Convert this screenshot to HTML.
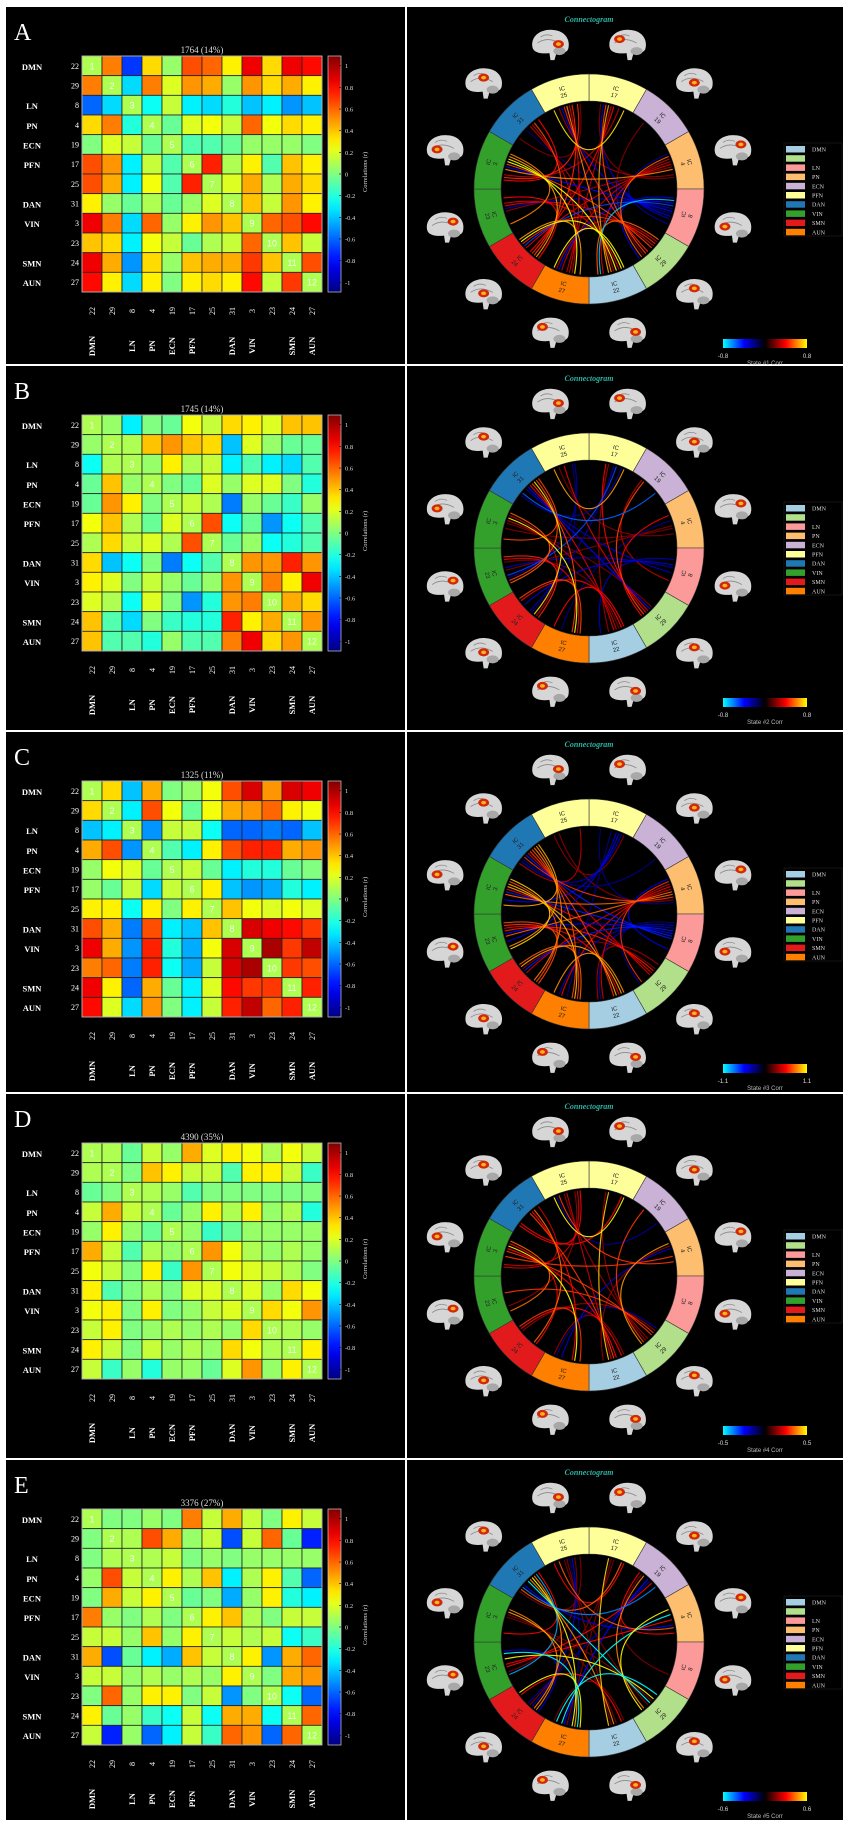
<!DOCTYPE html>
<html><head><meta charset="utf-8"><title>dFNC states</title>
<style>
html,body{margin:0;padding:0;background:#fff;}
svg{display:block;font-family:"Liberation Serif",serif;}
</style></head>
<body>
<svg id="fig" width="851" height="1828" viewBox="0 0 851 1828" xmlns="http://www.w3.org/2000/svg"></svg>
<script>
// ---------- data ----------
const panelLetters = ['A','B','C','D','E'];
const stateTitles = ['1764 (14%)','1745 (14%)','1325 (11%)','4390 (35%)','3376 (27%)'];
const stateClims = [0.8,0.8,1.1,0.5,0.6];
const icOrder = [22,29,8,4,19,17,25,31,3,23,24,27];
const rowNetworks = ['DMN','','LN','PN','ECN','PFN','','DAN','VIN','','SMN','AUN'];
const colorbarTicks = [1,0.8,0.6,0.4,0.2,0,-0.2,-0.4,-0.6,-0.8,-1];
const ringIcs = [17,19,4,8,29,22,27,24,23,3,31,25];
const ringColors = ['#ffff99','#cab2d6','#fdbf6f','#fb9a99','#b2df8a','#a6cee3','#ff7f00','#e31a1c','#33a02c','#33a02c','#1f78b4','#ffff99'];
const legendLabels = ['DMN','','LN','PN','ECN','PFN','DAN','VIN','SMN','AUN'];
const legendColors = ['#a6cee3','#b2df8a','#fb9a99','#fdbf6f','#cab2d6','#ffff99','#1f78b4','#33a02c','#e31a1c','#ff7f00'];

const stateA = [
[0.1,0.55,-0.7,0.35,0.05,0.65,0.6,0.3,0.85,0.35,0.85,0.8],
[0.55,0.1,-0.35,0.55,0.2,0.5,0.45,0.05,0.5,0.35,0.45,0.3],
[-0.6,-0.35,0.1,-0.25,0.15,-0.3,-0.35,-0.2,-0.4,-0.3,-0.5,-0.4],
[0.35,0.55,-0.2,0.1,-0.05,0.2,0.25,0.15,0.6,0.25,0.35,0.3],
[0,0.2,0.15,-0.05,0.1,-0.1,-0.1,-0.05,0.05,0.05,0.05,0],
[0.65,0.5,-0.3,0.15,-0.1,0.1,0.75,0.1,0.3,-0.1,0.4,0.3],
[0.65,0.45,-0.3,0.25,-0.1,0.75,0.1,0.2,0.45,0.1,0.45,0.35],
[0.3,0.05,-0.05,0.1,-0.05,0.05,0.2,0.1,0.4,0.15,0.5,0.3],
[0.85,0.55,-0.35,0.6,0.05,0.3,0.5,0.4,0.1,0.6,0.65,0.8],
[0.4,0.35,-0.3,0.25,0.15,-0.05,0.1,0.15,0.6,0.1,0.4,0.15],
[0.85,0.45,-0.5,0.35,0.05,0.4,0.45,0.45,0.7,0.4,0.1,0.65],
[0.8,0.3,-0.35,0.3,0,0.3,0.35,0.3,0.8,0.15,0.7,0.1]];
const stateB = [
[0.1,0.05,-0.3,0,-0.05,0.25,0.15,0.35,0.3,0.2,0.4,0.4],
[0.05,0.1,0.1,0.4,0.5,0.4,0.35,-0.4,0.2,0.05,-0.05,-0.05],
[-0.25,0.1,0.1,0.05,0.3,0.1,0.15,-0.3,-0.1,-0.3,-0.35,-0.1],
[-0.05,0.4,0.05,0.1,0,-0.05,0.2,0.05,0.2,0.2,0,-0.2],
[-0.05,0.5,0.3,0,0.1,0.15,0.1,-0.55,0.05,-0.05,-0.15,0.05],
[0.25,0.4,0.1,-0.05,0.2,0.1,0.65,-0.25,-0.05,-0.5,-0.25,-0.1],
[0.1,0.35,0.15,0.2,0.1,0.65,0.1,-0.05,0.05,-0.25,-0.2,-0.1],
[0.35,-0.4,-0.25,0,-0.55,-0.25,-0.1,0.1,0.5,0.5,0.75,0.5],
[0.3,0.2,0,0.15,0.05,-0.05,0.05,0.5,0.1,0.55,0.3,0.85],
[0.2,0.1,-0.25,0.2,0,-0.5,-0.2,0.5,0.55,0.1,0.45,0.35],
[0.4,-0.1,-0.35,0,-0.15,-0.2,-0.2,0.75,0.3,0.45,0.1,0.5],
[0.4,-0.1,-0.1,-0.2,0.05,-0.1,-0.1,0.55,0.85,0.35,0.5,0.1]];
const stateC = [
[0.1,0.35,-0.4,0.45,0,0.05,0.25,0.65,0.9,0.5,0.9,0.85],
[0.35,0.1,-0.3,0.65,0.25,-0.05,0.25,0.45,0.5,0.6,0.3,0.25],
[-0.4,-0.3,0.1,-0.5,0.15,0.15,-0.25,-0.6,-0.6,-0.55,-0.6,-0.4],
[0.45,0.65,-0.5,0.1,-0.1,-0.3,0.3,0.65,0.75,0.75,0.45,0.5],
[0.05,0.25,0.2,-0.05,0.1,0.15,-0.05,-0.3,-0.2,-0.2,-0.05,0],
[0.05,-0.05,0.15,-0.35,0.15,0.1,0.3,-0.4,-0.5,-0.45,-0.2,-0.3],
[0.3,0.3,-0.25,0.3,0,0.3,0.1,0.4,0.25,0.2,0.25,0.2],
[0.65,0.45,-0.55,0.65,-0.3,-0.4,0.4,0.1,0.9,0.85,0.8,0.7],
[0.85,0.45,-0.5,0.75,-0.2,-0.45,0.25,0.9,0.1,1.0,0.7,0.95],
[0.55,0.6,-0.55,0.75,-0.25,-0.45,0.15,0.9,1.0,0.1,0.7,0.65],
[0.85,0.3,-0.6,0.45,-0.05,-0.3,0.2,0.8,0.7,0.7,0.1,0.75],
[0.8,0.2,-0.35,0.5,0,-0.3,0.15,0.75,0.95,0.6,0.75,0.1]];
const stateD = [
[0.1,0.1,-0.05,0.15,0.05,0.45,0.2,0.3,0.25,0.1,0.25,0.15],
[0.1,0.1,0,0.4,0.3,0.15,0.15,-0.1,0.3,0.3,0.15,-0.15],
[-0.05,0,0.1,0.1,0.05,-0.1,0,0,0,0,0,0],
[0.15,0.45,0.15,0.1,-0.05,0.05,0.3,0.1,0.3,0.05,0.1,-0.2],
[0.05,0.3,0.05,-0.05,0.1,0.05,-0.15,-0.05,0.05,0.05,0.05,0.05],
[0.45,0.15,-0.1,0.1,0.05,0.1,0.5,0.25,0.1,0.05,0.1,0.05],
[0.25,0.15,0,0.3,-0.15,0.5,0.1,0.25,0.2,0.15,0.1,0],
[0.3,-0.1,0,0.1,0,0.2,0.2,0.1,0.2,0.05,0.35,0.25],
[0.25,0.3,0,0.3,0,0.05,0.15,0.2,0.1,0.35,0.25,0.5],
[0.15,0.3,0,0.05,0.1,0.05,0.1,0.05,0.35,0.1,0.1,0.05],
[0.3,0.15,0,0.15,0.05,0.1,0.05,0.35,0.25,0.1,0.1,0.3],
[0.15,-0.15,0.05,-0.2,0.05,0.05,-0.05,0.2,0.5,0.05,0.3,0.1]];
const stateE = [
[0.1,0,0,0.05,0,0.55,0.15,0.45,0.15,0,0.3,0.15],
[0,0.1,0.1,0.65,0.45,0.05,0.15,-0.65,0.15,0.6,-0.05,-0.75],
[0,0.1,0.1,0.1,0.15,0,0.05,0,0.05,0.05,0.05,0.05],
[0.05,0.65,0.15,0.1,0.3,0.1,0.4,-0.3,0.1,0.3,-0.1,-0.6],
[0,0.45,0.15,0.3,0.1,-0.05,0,-0.45,0.05,0.3,-0.2,-0.3],
[0.55,0.05,0,0.1,0,0.1,0.3,0.4,0.1,0,0.15,0.15],
[0.15,0.15,0.05,0.4,0.05,0.3,0.1,0.15,0.1,0.15,-0.25,-0.15],
[0.45,-0.65,-0.05,-0.3,-0.45,0.4,0.15,0.1,0.3,-0.5,0.45,0.6],
[0.15,0.15,0.05,0.1,0.05,0.1,0.05,0.3,0.1,0,0.45,0.5],
[0,0.6,0.05,0.3,0.3,0,0.15,-0.5,0,0.1,-0.25,-0.6],
[0.3,-0.05,0.05,-0.15,-0.25,0.15,-0.25,0.45,0.45,-0.25,0.1,0.6],
[0.15,-0.75,0.05,-0.6,-0.3,0.15,-0.15,0.6,0.5,-0.6,0.6,0.1]];
const stateMatrices = [stateA,stateB,stateC,stateD,stateE];

// ---------- layout ----------
const panelTops = [7,366,732,1094,1460];
const NS = 'http://www.w3.org/2000/svg';
const svg = document.getElementById('fig');
function mk(tag, attrs, parent, txt){
  const e = document.createElementNS(NS, tag);
  for (const k in attrs) e.setAttribute(k, attrs[k]);
  if (txt !== undefined) e.textContent = txt;
  (parent || svg).appendChild(e);
  return e;
}
const clampU = x => Math.max(0, Math.min(1, x));
const CB = 1.09;
function jet(v){
  const t = clampU((v + CB) / (2*CB));
  const r = clampU(1.5 - Math.abs(4*t - 3)), g = clampU(1.5 - Math.abs(4*t - 2)), b = clampU(1.5 - Math.abs(4*t - 1));
  return `rgb(${Math.round(r*255)},${Math.round(g*255)},${Math.round(b*255)})`;
}
function hot2(t){
  t = clampU(t);
  const stops = [[0,255,255],[0,0,255],[0,0,0],[255,0,0],[255,255,0]];
  const p = t*4, i = Math.min(3, Math.floor(p)), f = p - i;
  const a = stops[i], b = stops[i+1];
  return `rgb(${Math.round(a[0]+(b[0]-a[0])*f)},${Math.round(a[1]+(b[1]-a[1])*f)},${Math.round(a[2]+(b[2]-a[2])*f)})`;
}
const defs = mk('defs', {});
const jg = mk('linearGradient', {id:'jetGrad', x1:0, y1:1, x2:0, y2:0}, defs);
for (let k=0;k<=20;k++) mk('stop', {offset: k/20, 'stop-color': jet(-CB + 2*CB*k/20)}, jg);
const hg = mk('linearGradient', {id:'hotGrad', x1:0, y1:0, x2:1, y2:0}, defs);
for (let k=0;k<=20;k++) mk('stop', {offset: k/20, 'stop-color': hot2(k/20)}, hg);

const HX = 82, HW = 240, N = 12, CW = HW / N, HH = 236, CH = HH / N;

panelLetters.forEach((L, p) => {
  const P = panelTops[p];
  const PB = (p < 4 ? panelTops[p+1] - 2 : 1820);
  const M = stateMatrices[p];
  const gL = mk('g', {});
  
  
  mk('rect', {x:6, y:P, width:399, height:PB-P, fill:'#000'}, gL);
  const gR = mk('g', {});
  
  
  mk('rect', {x:407, y:P, width:436, height:PB-P, fill:'#000'}, gR);

  const letter = mk('text', {x:14, y:P+33, fill:'#fff', 'font-size':24}, gL, L);
  
  

  const HY = P + 49;
  const title = mk('text', {x:HX+HW/2, y:HY-3, fill:'#ddd', 'font-size':9, 'text-anchor':'middle'}, gL, stateTitles[p]);
  
  

  const gh = mk('g', {}, gL);
  
  
  for (let i=0;i<N;i++) for (let j=0;j<N;j++){
    const c = mk('rect', {x:HX+j*CW, y:HY+i*CH, width:CW, height:CH, fill:jet(M[i][j]), stroke:'#222', 'stroke-width':0.8}, gh);
    
    
    if (i === j){
      const d = mk('text', {x:HX+j*CW+CW/2, y:HY+i*CH+CH/2+3.5, fill:'#f0fff0', 'font-size':9, 'text-anchor':'middle', 'font-family':'Liberation Sans, sans-serif'}, gh, String(i+1));
      
      
    }
  }
  mk('rect', {x:HX, y:HY, width:HW, height:HH, fill:'none', stroke:'#ccc', 'stroke-width':0.8}, gh);

  for (let i=0;i<N;i++){
    const cy = HY + i*CH + CH/2;
    const rn = mk('text', {x:79, y:cy+3, fill:'#fff', 'font-size':8, 'text-anchor':'end'}, gL, String(icOrder[i]));
    
    
    if (rowNetworks[i]){
      const nl = mk('text', {x:32, y:cy+4, fill:'#fff', 'font-size':8.5, 'font-weight':'bold', 'text-anchor':'middle'}, gL, rowNetworks[i]);
      
      
    }
    const cx = HX + i*CW + CW/2;
    const cn = mk('text', {x:0, y:0, fill:'#fff', 'font-size':8, 'text-anchor':'middle', transform:`translate(${cx+3},${HY+HH+19}) rotate(-90)`}, gL, String(icOrder[i]));
    
    
    if (rowNetworks[i]){
      const cl = mk('text', {x:0, y:0, fill:'#fff', 'font-size':8.5, 'font-weight':'bold', 'text-anchor':'middle', transform:`translate(${cx+3},${HY+HH+54}) rotate(-90)`}, gL, rowNetworks[i]);
      
      
    }
  }
  const cb = mk('rect', {x:328, y:HY, width:13, height:HH, fill:'url(#jetGrad)', stroke:'#ccc', 'stroke-width':0.7}, gL);
  
  
  colorbarTicks.forEach(t => {
    const ty = HY + HH/2 - t/CB * HH/2;
    mk('line', {x1:339, x2:341, y1:ty, y2:ty, stroke:'#000', 'stroke-width':0.6}, gL);
    const tl = mk('text', {x:345, y:ty+2.5, fill:'#ddd', 'font-size':6.5}, gL, String(t));
    
    
  });
  const ct = mk('text', {x:0, y:0, fill:'#ddd', 'font-size':6.5, 'text-anchor':'middle', transform:`translate(367,${HY+HH/2-2}) rotate(-90)`}, gL, 'Correlations (r)');
  
  

  // ---------- connectogram ----------
  const cxR = 589, cyR = P + 182, RO = 115, RI = 88;
  const tt = mk('text', {x:cxR, y:P+15, fill:'#2bb5a5', 'font-size':8, 'font-style':'italic', 'font-weight':'bold', 'text-anchor':'middle'}, gR, 'Connectogram');
  
  
  const pt = (r, a) => [cxR + r*Math.sin(a*Math.PI/180), cyR - r*Math.cos(a*Math.PI/180)];

  for (let k=0;k<12;k++){
    const a = k*30 + 15;
    const [bx, by] = pt(149, a);
    const gb = mk('g', {transform:`translate(${bx},${by})`}, gR);
    
    
    mk('path', {d:'M-18,2 C-20,-10 -8,-17 4,-15 C14,-14 20,-6 18,3 C17,8 10,9 6,8 L4,15 L0,15 L-1,8 C-8,9 -17,8 -18,2 Z', fill:'#d6d6d6'}, gb);
    mk('ellipse', {cx:9, cy:6, rx:6, ry:4, fill:'#a8a8a8'}, gb);
    mk('path', {d:'M-13,-2 q10,-7 22,0 M-10,-8 q6,-4 12,-1', stroke:'#888', 'stroke-width':0.8, fill:'none'}, gb);
    mk('ellipse', {cx:(k%3-1)*8, cy:-6+(k%2)*5, rx:5.5, ry:4, fill:'#d02808'}, gb);
    mk('ellipse', {cx:(k%3-1)*8, cy:-6+(k%2)*5, rx:2.5, ry:1.8, fill:'#ffb020'}, gb);
  }
  for (let k=0;k<12;k++){
    const a0 = k*30, a1 = a0+30;
    const [x0,y0] = pt(RO,a0), [x1,y1] = pt(RO,a1), [x2,y2] = pt(RI,a1), [x3,y3] = pt(RI,a0);
    const seg = mk('path', {d:`M${x0},${y0} A${RO},${RO} 0 0 1 ${x1},${y1} L${x2},${y2} A${RI},${RI} 0 0 0 ${x3},${y3} Z`, fill:ringColors[k], stroke:'#333', 'stroke-width':0.6}, gR);
    
    
    const am = a0 + 15;
    const [lx, ly] = pt(101, am);
    const rot = (am > 90 && am < 270) ? am + 180 : am;
    const lab = mk('text', {x:0, y:0, fill:'#222', 'font-size':6, 'text-anchor':'middle', 'font-family':'Liberation Sans, sans-serif', transform:`translate(${lx},${ly}) rotate(${rot})`}, gR);
    
    
    mk('tspan', {x:0, y:-1}, lab, 'IC');
    mk('tspan', {x:0, y:6}, lab, String(ringIcs[k]));
  }
  const segOf = ic => ringIcs.indexOf(ic);
  const chords = [];
  for (let i=0;i<N;i++) for (let j=i+1;j<N;j++){
    const v = M[i][j];
    if (Math.abs(v)/stateClims[p] < 0.25) continue;
    chords.push([i,j,v]);
  }
  chords.sort((a,b)=>Math.abs(a[2])-Math.abs(b[2]));
  const gc = mk('g', {}, gR);
  
  
  chords.forEach(([i,j,v]) => {
    const si = segOf(icOrder[i]), sj = segOf(icOrder[j]);
    const ai = si*30 + 15 + ((sj - si + 12) % 12 - 6) * 1.8;
    const aj = sj*30 + 15 + ((si - sj + 12) % 12 - 6) * 1.8;
    const [x0,y0] = pt(RI-2, ai), [x1,y1] = pt(RI-2, aj);
    const ch = mk('path', {d:`M${x0},${y0} Q${cxR},${cyR} ${x1},${y1}`, fill:'none', stroke:hot2((v/stateClims[p]+1)/2), 'stroke-width':1.15, 'stroke-opacity':0.9}, gc);
    
    
  });
  const gLg = mk('g', {}, gR);
  
  
  mk('rect', {x:784, y:P+136, width:58, height:93, fill:'#000', stroke:'#222', 'stroke-width':0.6}, gLg);
  legendLabels.forEach((lab, k) => {
    const ly = P + 139 + k*9.2;
    const sw = mk('rect', {x:786, y:ly, width:19, height:6.5, fill:legendColors[k]}, gLg);
    
    
    if (lab){
      const lt = mk('text', {x:812, y:ly+5.5, fill:'#ddd', 'font-size':6}, gLg, lab);
      
      
    }
  });
  const sb = mk('rect', {x:723, y:P+332, width:84, height:9, fill:'url(#hotGrad)'}, gR);
  
  
  const cl = stateClims[p];
  const l1 = mk('text', {x:723, y:P+351, fill:'#ddd', 'font-size':6, 'text-anchor':'middle', 'font-family':'Liberation Sans, sans-serif'}, gR, '-' + cl);
  
  
  const l2 = mk('text', {x:807, y:P+351, fill:'#ddd', 'font-size':6, 'text-anchor':'middle', 'font-family':'Liberation Sans, sans-serif'}, gR, String(cl));
  
  
  const l3 = mk('text', {x:765, y:P+358, fill:'#bbb', 'font-size':6, 'text-anchor':'middle', 'font-family':'Liberation Sans, sans-serif'}, gR, 'State #' + (p+1) + ' Corr');
  
  
});
</script>
</body></html>
